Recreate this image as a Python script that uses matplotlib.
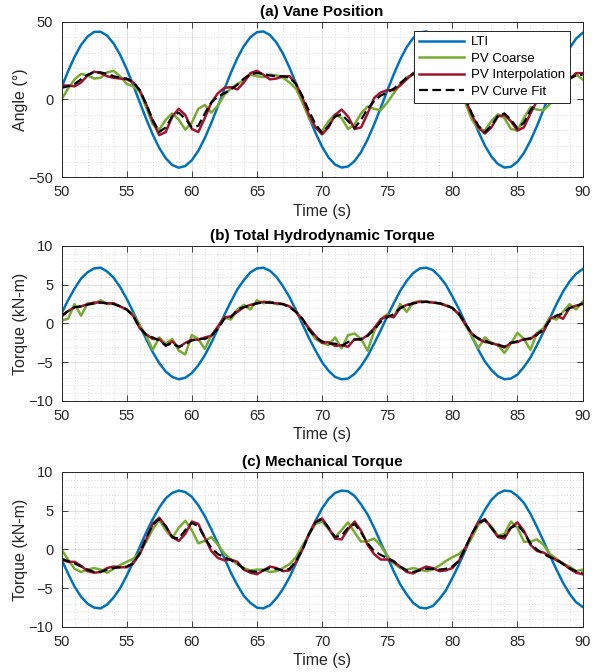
import numpy as np
import matplotlib.pyplot as plt

plt.rcParams['font.family'] = ['Liberation Sans', 'DejaVu Sans']

# time base, 0.5 s samples
time = np.arange(50, 90.5, 0.5)

# (a) vane position, degrees
angle_lti = [7.7, 18.2, 27.5, 35.2, 40.6, 43.6, 43.7, 41.2, 36.1, 28.8,
             19.7, 9.3, -1.7, -12.5, -22.6, -31.2, -37.9, -42.3, -44.0, -42.9,
             -39.2, -33.1, -24.9, -15.1, -4.4, 6.6, 17.2, 26.7, 34.5, 40.2,
             43.4, 43.9, 41.6, 36.7, 29.6, 20.6, 10.3, -0.6, -11.4, -21.6,
             -30.4, -37.4, -42.0, -43.9, -43.2, -39.7, -33.8, -25.8, -16.1, -5.5,
             5.5, 16.1, 25.8, 33.8, 39.7, 43.2, 43.9, 41.9, 37.3, 30.4,
             21.6, 11.4, 0.5, -10.4, -20.7, -29.7, -36.8, -41.6, -43.9, -43.4,
             -40.2, -34.5, -26.6, -17.1, -6.6, 4.4, 15.1, 24.9, 33.1, 39.2,
             42.9]
angle_coarse = [0, 7, 13, 16.5, 15.5, 13.5, 14, 17.5, 18.5, 15,
                10, 8.5, 5, -5, -16, -19.5, -13, -9, -13, -19.5,
                -15, -6, -3.5, -8.5, -4, 3, 7, 10, 12.5, 16,
                15, 14.5, 16, 15.5, 14, 11, 7, -2, -12, -18,
                -20.5, -14, -9.5, -12, -19, -16, -9, -4.5, -6, -7,
                -2, 4, 10, 14.5, 16, 15, 14, 16.5, 17, 14.5,
                10, 7, -2, -13, -19, -20, -14, -9.5, -12, -19,
                -20, -12, -5, -6.5, -7, -3, 3, 9, 14, 16,
                13]
angle_interp = [9, 9, 8.5, 11, 15.5, 18, 17, 15, 14, 13.5,
                13, 11, 6, -3, -14, -23, -21, -11, -6, -10,
                -19, -21, -12, -2, 4, 7.5, 8, 6.5, 11, 17,
                18.5, 16, 13, 13.5, 15, 15, 10, 1, -10, -18,
                -22.5, -18, -10, -6.5, -11, -19, -18, -9, 1, 4.5,
                6, 6, 9, 13, 17, 18.5, 16, 13, 13.5, 15,
                15, 10, 0, -10, -18, -22, -18, -11, -10, -14,
                -20, -18, -9, -1, 3, 4, 6, 9, 13, 17,
                17]
angle_fit = [7.5, 8.5, 10, 13, 16, 17.5, 17.5, 16.5, 15, 14,
             13.5, 11.5, 6, -3, -13, -21, -18, -11, -8.5, -12.5,
             -18, -17, -9, -2, 2, 4, 6.5, 9.5, 13.5, 16.5,
             17, 16.5, 15.5, 15, 15, 14, 10, 2, -7.5, -16,
             -21.5, -17, -11, -9.5, -14, -18.5, -13, -6, -1, 2.5,
             4.5, 7, 10.5, 14, 16.5, 17.5, 17, 16, 15, 15,
             14.5, 10, 1, -9, -17, -21, -17, -10.5, -9, -13,
             -18.5, -15, -7, -1.5, 2, 4.5, 7, 10.5, 13.5, 15.5,
             16]

# (b) total hydrodynamic torque, kN-m
hydro_lti = [1.3, 3.0, 4.5, 5.8, 6.6, 7.1, 7.2, 6.7, 5.9, 4.7,
             3.2, 1.5, -0.3, -2.0, -3.7, -5.1, -6.2, -6.9, -7.2, -7.0,
             -6.4, -5.4, -4.1, -2.5, -0.7, 1.1, 2.8, 4.4, 5.6, 6.6,
             7.1, 7.2, 6.8, 6.0, 4.8, 3.4, 1.7, -0.1, -1.9, -3.5,
             -5.0, -6.1, -6.9, -7.2, -7.1, -6.5, -5.5, -4.2, -2.6, -0.9,
             0.9, 2.6, 4.2, 5.5, 6.5, 7.1, 7.2, 6.9, 6.1, 5.0,
             3.5, 1.9, 0.1, -1.7, -3.4, -4.9, -6.0, -6.8, -7.2, -7.1,
             -6.6, -5.6, -4.4, -2.8, -1.1, 0.7, 2.5, 4.1, 5.4, 6.4,
             7.0]
hydro_coarse = [0.4, 0.6, 2.5, 1.0, 2.6, 2.5, 3.0, 2.5, 2.6, 2.2,
                1.8, 1.2, -0.2, -1.6, -3.4, -1.8, -2.6, -2.0, -3.5, -4.0,
                -1.5, -2.0, -3.3, -1.5, -0.5, 0.8, 0.5, 1.8, 2.4, 1.8,
                3.0, 2.6, 2.8, 2.5, 2.5, 2.2, 1.5, 0.5, -0.8, -2.0,
                -2.5, -2.8, -1.8, -3.2, -1.5, -1.3, -2.0, -3.5, -1.0, 0.5,
                1.2, 0.8, 2.5, 1.5, 2.7, 2.9, 2.8, 2.7, 2.6, 2.4,
                2.0, 1.2, -0.2, -1.6, -3.2, -1.8, -2.5, -2.8, -3.8, -2.6,
                -1.2, -2.0, -3.4, -1.2, -0.6, 0.8, 0.5, 1.5, 2.5, 1.8,
                2.8]
hydro_interp = [0.9, 1.6, 2.1, 2.2, 2.5, 2.7, 2.7, 2.6, 2.6, 2.2,
                1.8, 1.0, -0.6, -1.4, -2.0, -2.0, -2.9, -2.3, -3.1, -2.5,
                -2.1, -2.1, -1.8, -1.6, -0.4, 0.8, 0.9, 1.5, 2.1, 2.4,
                2.6, 2.8, 2.7, 2.6, 2.5, 2.2, 1.5, 0.5, -0.6, -1.6,
                -2.5, -2.4, -2.9, -2.8, -3.0, -2.0, -2.1, -1.5, -0.6, 0.5,
                1.0, 0.8, 2.0, 2.4, 2.6, 2.8, 2.8, 2.7, 2.6, 2.3,
                2.0, 1.2, -0.1, -1.3, -2.0, -2.4, -2.5, -2.8, -3.1, -2.5,
                -2.4, -2.0, -2.0, -1.3, -1.0, 0.6, 1.0, 0.6, 2.0, 2.3,
                2.5]
hydro_fit = [1.0, 1.6, 2.1, 2.2, 2.4, 2.6, 2.7, 2.6, 2.5, 2.2,
             1.8, 1.0, -0.5, -1.5, -1.8, -2.2, -2.8, -2.6, -3.0, -2.7,
             -2.2, -2.0, -2.0, -1.6, -0.7, 0.6, 0.8, 1.8, 2.1, 2.3,
             2.6, 2.7, 2.7, 2.6, 2.5, 2.1, 1.5, 0.6, -0.8, -1.8,
             -2.3, -2.6, -2.6, -2.9, -2.4, -2.1, -2.0, -1.6, -0.8, 0.2,
             0.8, 1.2, 2.0, 2.3, 2.6, 2.7, 2.8, 2.7, 2.6, 2.4,
             2.0, 1.3, 0.0, -1.4, -1.9, -2.2, -2.6, -2.7, -3.0, -2.5,
             -2.3, -2.1, -1.9, -1.5, -0.7, 0.4, 1.0, 1.3, 2.0, 2.2,
             2.6]

# (c) mechanical torque, kN-m
mech_lti = [-1.3, -3.1, -4.8, -6.1, -7.0, -7.5, -7.6, -7.1, -6.2, -5.0,
            -3.4, -1.6, 0.3, 2.2, 3.9, 5.4, 6.6, 7.3, 7.6, 7.4,
            6.8, 5.7, 4.3, 2.6, 0.8, -1.1, -3.0, -4.6, -6.0, -6.9,
            -7.5, -7.6, -7.2, -6.3, -5.1, -3.6, -1.8, 0.1, 2.0, 3.7,
            5.3, 6.5, 7.3, 7.6, 7.5, 6.9, 5.8, 4.5, 2.8, 0.9,
            -0.9, -2.8, -4.5, -5.8, -6.9, -7.5, -7.6, -7.3, -6.4, -5.3,
            -3.7, -2.0, -0.1, 1.8, 3.6, 5.1, 6.4, 7.2, 7.6, 7.5,
            6.9, 6.0, 4.6, 2.9, 1.1, -0.8, -2.6, -4.3, -5.7, -6.8,
            -7.4]
mech_coarse = [0.0, -1.3, -2.5, -2.9, -2.6, -2.4, -2.6, -3.0, -2.5, -2.0,
               -1.6, -1.2, -0.4, 1.0, 2.6, 3.8, 2.5, 1.5, 2.8, 3.7,
               2.5, 0.8, 1.1, 1.6, 0.6, -0.5, -1.3, -1.9, -2.4, -2.7,
               -2.6, -2.6, -2.9, -2.8, -2.4, -1.9, -1.0, 0.5, 1.9, 3.3,
               3.6, 2.6, 1.6, 2.5, 3.5, 2.2, 1.0, 1.1, 1.4, 0.5,
               -0.8, -1.8, -2.4, -2.6, -2.4, -2.6, -2.8, -2.6, -2.1, -1.5,
               -1.0, -0.6, 0.2, 1.5, 3.2, 3.8, 3.0, 1.8, 2.0, 3.6,
               2.8, 1.0, 1.0, 1.3, 0.6, -0.6, -1.2, -1.8, -2.2, -2.8,
               -2.6]
mech_interp = [-1.3, -1.6, -1.6, -2.1, -2.8, -3.0, -2.9, -2.4, -2.2, -2.3,
               -2.3, -1.8, -0.6, 1.3, 3.3, 4.1, 3.0, 1.6, 1.1, 2.0,
               3.6, 3.3, 1.5, -0.2, -1.1, -1.4, -1.3, -1.6, -2.6, -3.0,
               -3.2, -2.7, -2.2, -2.4, -2.8, -2.7, -1.6, 0.0, 2.0, 3.6,
               4.0, 2.8, 1.4, 1.3, 2.6, 3.6, 2.4, 0.6, -0.6, -1.3,
               -1.3, -1.6, -2.2, -2.9, -3.1, -2.6, -2.2, -2.4, -2.8, -2.7,
               -2.4, -1.5, 0.2, 2.0, 3.5, 3.9, 2.8, 1.6, 1.4, 2.8,
               3.5, 2.4, 0.6, -0.2, -0.4, -0.9, -1.4, -1.8, -2.5, -3.0,
               -3.2]
mech_fit = [-1.2, -1.5, -1.8, -2.2, -2.6, -2.9, -2.9, -2.6, -2.4, -2.3,
            -2.2, -1.8, -0.5, 1.5, 3.2, 3.9, 3.0, 1.6, 1.4, 2.5,
            3.4, 3.0, 1.5, 0.2, -0.6, -1.0, -1.4, -1.8, -2.5, -2.8,
            -2.9, -2.7, -2.4, -2.5, -2.7, -2.5, -1.5, 0.0, 2.0, 3.5,
            3.9, 2.8, 1.6, 1.8, 2.8, 3.3, 2.2, 0.8, -0.2, -0.7,
            -1.1, -1.5, -2.2, -2.7, -2.9, -2.7, -2.5, -2.5, -2.6, -2.5,
            -2.2, -1.5, 0.2, 2.0, 3.4, 3.8, 2.8, 1.7, 1.7, 2.8,
            3.2, 2.2, 0.8, 0.0, -0.6, -1.0, -1.3, -1.9, -2.4, -2.8,
            -3.0]

labels = ['LTI', 'PV Coarse', 'PV Interpolation', 'PV Curve Fit']
colors = ['#0072BD', '#77AC30', '#A2142F', 'black']
titles = ['(a) Vane Position', '(b) Total Hydrodynamic Torque', '(c) Mechanical Torque']
ylabels = ['Angle (\u00b0)', 'Torque (kN-m)', 'Torque (kN-m)']
panels = [
    (angle_lti, angle_coarse, angle_interp, angle_fit),
    (hydro_lti, hydro_coarse, hydro_interp, hydro_fit),
    (mech_lti, mech_coarse, mech_interp, mech_fit),
]
ylims = [(-50, 50), (-10, 10), (-10, 10)]
yticks = [[-50, 0, 50], [-10, -5, 0, 5, 10], [-10, -5, 0, 5, 10]]
yminor = [10, 1, 1]

fig = plt.figure(figsize=(6.05, 6.72), dpi=100)
bottoms = [0.7366, 0.4033, 0.0670]
axes = [fig.add_axes([0.1017, b, 0.8612, 0.2307]) for b in bottoms]

for i, ax in enumerate(axes):
    lti, coarse, interp, fit = panels[i]
    ax.plot(time, lti, color=colors[0], lw=1.8, label=labels[0])
    ax.plot(time, coarse, color=colors[1], lw=1.8, label=labels[1])
    ax.plot(time, interp, color=colors[2], lw=1.8, label=labels[2])
    ax.plot(time, fit, color=colors[3], lw=1.6, ls=(0, (4, 2)), label=labels[3])

    ax.set_xlim(50, 90)
    ax.set_ylim(*ylims[i])
    ax.set_xticks(np.arange(50, 91, 5))
    ax.set_yticks(yticks[i])
    ax.set_xticks(np.arange(50, 91, 1), minor=True)
    ax.set_yticks(np.arange(ylims[i][0], ylims[i][1] + 0.1, yminor[i]), minor=True)
    ax.grid(True, which='major', color='#e0e0e0', lw=0.8)
    ax.grid(True, which='minor', color='#cfcfcf', lw=0.6, ls=(0, (1, 2.5)))
    ax.set_axisbelow(True)
    ax.tick_params(which='both', direction='in', top=True, right=True,
                   labelsize=10.5, colors='#262626', pad=6)
    ax.tick_params(which='major', length=4, width=0.6)
    ax.tick_params(which='minor', length=0)
    for s in ax.spines.values():
        s.set_color('#262626')
        s.set_linewidth(0.7)
    ax.set_xlabel('Time (s)', fontsize=11.5, color='#262626', labelpad=3)
    ax.set_ylabel(ylabels[i], fontsize=11.5, color='#262626', labelpad=0)
    ax.set_title(titles[i], fontsize=11, fontweight='bold', pad=4)

leg = axes[0].legend(loc='upper right', bbox_to_anchor=(0.976, 0.942),
                     fontsize=9.5, handlelength=3.4, handletextpad=0.5,
                     borderpad=0.4, labelspacing=0.32, fancybox=False,
                     framealpha=1, borderaxespad=0)
leg.get_frame().set_edgecolor('#262626')
leg.get_frame().set_linewidth(0.7)

fig.savefig('out.png', dpi=100)
